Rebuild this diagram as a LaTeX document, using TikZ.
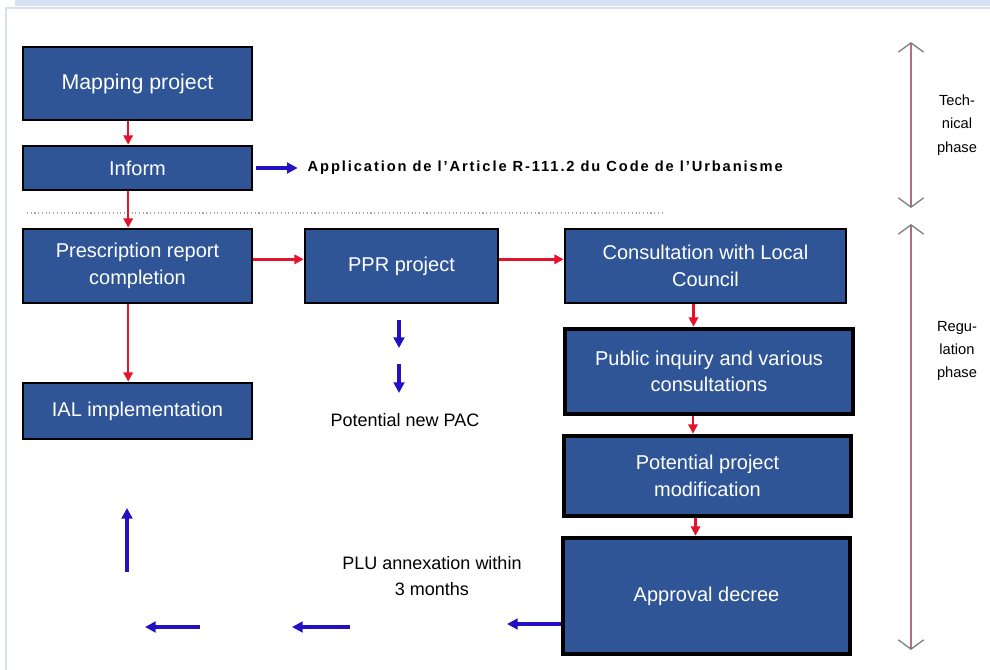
\documentclass[tikz,border=0pt]{standalone}
\usepackage{fontspec}
\setmainfont{Liberation Sans}
\usetikzlibrary{arrows.meta}
\definecolor{boxblue}{RGB}{47,85,151}
\definecolor{flowred}{RGB}{228,18,42}
\definecolor{flowblue}{RGB}{34,16,196}
\definecolor{phaseline}{RGB}{176,112,128}
\definecolor{framecol}{RGB}{214,224,242}

\begin{document}
\begin{tikzpicture}[x=0.75pt,y=-0.75pt]
    \tikzstyle{box}=[draw=black,line width=2pt,fill=boxblue,text=white,inner sep=0pt,align=center,font=\fontsize{15}{20}\selectfont]
    \tikzstyle{thick box}=[box,line width=3.5pt]
    \tikzstyle{red arrow}=[-{Triangle[length=7pt,width=7pt]},flowred,line width=1.8pt]
    \tikzstyle{blue arrow}=[-{Triangle[length=8pt,width=8pt]},flowblue,line width=2.4pt]
    \tikzstyle{phase arrow}=[{Straight Barb[length=7pt,width=19pt,line width=1pt,color=gray]}-{Straight Barb[length=7pt,width=19pt,line width=1pt,color=gray]},phaseline,line width=1pt]
    \tikzstyle{phase text}=[align=center,font=\fontsize{11}{17.5}\selectfont]
    \useasboundingbox (0,0) rectangle (990,670);
    % Frame
    \fill[framecol] (15,0) rectangle (990,6);
    \draw[framecol,line width=1.5pt] (6,670) -- (6,8) -- (990,8);
    % Technical phase
    \node[box,minimum width=171.75pt,minimum height=54.75pt,font=\fontsize{16}{20}\selectfont] (map) at (137.5,83.5) {Mapping project};
    \node[box,minimum width=171.75pt,minimum height=33pt] (inform) at (137.5,168) {Inform};
    \node[anchor=west,font=\bfseries\fontsize{11}{13}\selectfont\addfontfeature{LetterSpace=13}] (art) at (303,168) {Application de l'Article R-111.2 du Code de l'Urbanisme};
    \draw[gray!70,dotted,line width=0.8pt] (27,213) -- (664,213);
    % Regulation phase
    \node[box,minimum width=171.75pt,minimum height=55.5pt] (presc) at (137.5,266) {Prescription report\\completion};
    \node[box,minimum width=171.75pt,minimum height=42pt] (ial) at (137.5,411) {IAL implementation};
    \node[box,minimum width=144.75pt,minimum height=55.5pt] (ppr) at (401.5,266) {PPR project};
    \node[box,minimum width=210.75pt,minimum height=55.5pt] (consult) at (705.5,266) {Consultation with Local\\Council};
    \node[thick box,minimum width=216pt,minimum height=63.75pt] (public) at (709,371.5) {Public inquiry and various\\consultations};
    \node[thick box,minimum width=215.25pt,minimum height=60pt] (modif) at (707.5,476) {Potential project\\modification};
    \node[thick box,minimum width=215.25pt,minimum height=87pt] (approval) at (706.5,596) {Approval decree};
    \node[font=\fontsize{13.5}{16}\selectfont] (pac) at (405,420) {Potential new PAC};
    \node[align=center,font=\fontsize{13.5}{19.5}\selectfont] (plu) at (432,576) {PLU annexation within\\3 months};
    % Red flow
    \draw[red arrow] ([xshift=-7pt]map.south) -- ([xshift=-7pt]inform.north);
    \draw[red arrow] ([xshift=-7pt]inform.south) -- ([xshift=-7pt]presc.north);
    \draw[red arrow] ([xshift=-7pt]presc.south) -- ([xshift=-7pt]ial.north);
    \draw[red arrow] ([yshift=5pt]presc.east) -- ([yshift=5pt]ppr.west);
    \draw[red arrow] ([yshift=5pt]ppr.east) -- ([yshift=5pt]consult.west);
    \draw[red arrow] ([xshift=-9pt]consult.south) -- ([xshift=-9pt]consult.south |- public.north);
    \draw[red arrow] ([xshift=-12pt]public.south) -- ([xshift=-12pt]public.south |- modif.north);
    \draw[red arrow] ([xshift=-9pt]modif.south) -- ([xshift=-9pt]modif.south |- approval.north);
    % Blue flow
    \coordinate (p1) at (399,320);
    \coordinate (p2) at (399,348);
    \coordinate (p3) at (399,364);
    \coordinate (p4) at (399,393);
    \coordinate (a1) at (507,624);
    \coordinate (b1) at (350,627);
    \coordinate (b2) at (292,627);
    \coordinate (c1) at (200,627);
    \coordinate (c2) at (145,627);
    \coordinate (u1) at (127,572);
    \coordinate (u2) at (127,508);
    \draw[blue arrow,shorten <=2pt,shorten >=4pt] (inform.east) -- (art.west);
    \draw[blue arrow] (p1) -- (p2);
    \draw[blue arrow] (p3) -- (p4);
    \draw[blue arrow] ([yshift=-21pt]approval.west) -- (a1);
    \draw[blue arrow] (b1) -- (b2);
    \draw[blue arrow] (c1) -- (c2);
    \draw[blue arrow] (u1) -- (u2);
    % Phases
    \coordinate (t1) at (911,42);
    \coordinate (t2) at (911,208);
    \coordinate (r1) at (911,224);
    \coordinate (r2) at (911,650);
    \draw[phase arrow] (t1) -- (t2);
    \draw[phase arrow] (r1) -- (r2);
    \node[phase text] (tech) at (957,125) {Tech-\\nical\\phase};
    \node[phase text] (regu) at (957,351) {Regu-\\lation\\phase};
\end{tikzpicture}
\end{document}
